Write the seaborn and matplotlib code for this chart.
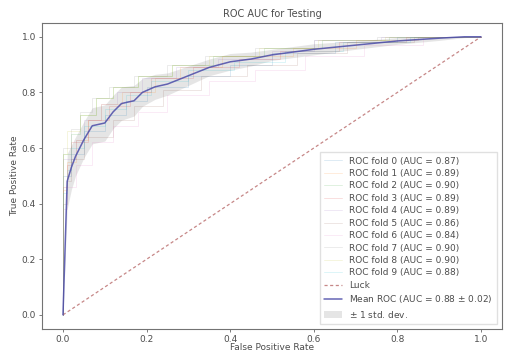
import numpy as np
import matplotlib
matplotlib.use("Agg")
import matplotlib.pyplot as plt
import seaborn as sns
import pandas as pd

# ---- data ----
fold_aucs = [0.87, 0.89, 0.90, 0.89, 0.89, 0.86, 0.84, 0.90, 0.90, 0.88]

fold_fpr = [
    [0, 0.00, 0.02, 0.05, 0.10, 0.15, 0.20, 0.30, 0.40, 0.50, 0.65, 0.80, 1.0],
    [0, 0.01, 0.03, 0.06, 0.09, 0.14, 0.22, 0.28, 0.38, 0.55, 0.70, 0.85, 1.0],
    [0, 0.00, 0.02, 0.04, 0.08, 0.12, 0.18, 0.26, 0.36, 0.48, 0.62, 0.78, 1.0],
    [0, 0.01, 0.02, 0.06, 0.11, 0.16, 0.21, 0.31, 0.42, 0.52, 0.66, 0.82, 1.0],
    [0, 0.00, 0.03, 0.05, 0.09, 0.13, 0.19, 0.27, 0.37, 0.50, 0.60, 0.76, 1.0],
    [0, 0.01, 0.02, 0.05, 0.12, 0.17, 0.24, 0.33, 0.44, 0.56, 0.68, 0.84, 1.0],
    [0, 0.01, 0.03, 0.07, 0.12, 0.18, 0.25, 0.35, 0.46, 0.58, 0.72, 0.86, 1.0],
    [0, 0.00, 0.02, 0.04, 0.07, 0.11, 0.17, 0.25, 0.34, 0.46, 0.60, 0.75, 1.0],
    [0, 0.00, 0.01, 0.04, 0.08, 0.12, 0.18, 0.26, 0.35, 0.47, 0.61, 0.77, 1.0],
    [0, 0.01, 0.02, 0.05, 0.10, 0.15, 0.21, 0.30, 0.41, 0.53, 0.67, 0.83, 1.0],
]
fold_tpr = [
    [0, 0.42, 0.50, 0.58, 0.66, 0.72, 0.77, 0.82, 0.86, 0.90, 0.94, 0.98, 1.0],
    [0, 0.45, 0.55, 0.63, 0.70, 0.76, 0.80, 0.85, 0.89, 0.93, 0.96, 0.99, 1.0],
    [0, 0.50, 0.58, 0.65, 0.72, 0.78, 0.82, 0.86, 0.90, 0.93, 0.96, 0.99, 1.0],
    [0, 0.46, 0.54, 0.62, 0.70, 0.75, 0.80, 0.85, 0.89, 0.92, 0.95, 0.98, 1.0],
    [0, 0.48, 0.56, 0.63, 0.70, 0.76, 0.80, 0.85, 0.89, 0.92, 0.95, 0.99, 1.0],
    [0, 0.40, 0.48, 0.56, 0.64, 0.70, 0.75, 0.81, 0.86, 0.90, 0.94, 0.98, 1.0],
    [0, 0.38, 0.46, 0.54, 0.62, 0.68, 0.73, 0.79, 0.84, 0.88, 0.93, 0.97, 1.0],
    [0, 0.52, 0.60, 0.67, 0.73, 0.78, 0.82, 0.86, 0.90, 0.93, 0.96, 0.99, 1.0],
    [0, 0.50, 0.58, 0.66, 0.72, 0.78, 0.82, 0.86, 0.90, 0.93, 0.96, 0.99, 1.0],
    [0, 0.44, 0.52, 0.60, 0.68, 0.74, 0.79, 0.84, 0.88, 0.91, 0.95, 0.98, 1.0],
]

mean_fpr = [0, 0.01, 0.02, 0.03, 0.05, 0.07, 0.10, 0.12, 0.14, 0.17, 0.19, 0.22,
            0.25, 0.30, 0.35, 0.40, 0.45, 0.50, 0.60, 0.70, 0.80, 0.90, 0.96, 1.0]
mean_tpr = [0, 0.48, 0.53, 0.57, 0.63, 0.68, 0.69, 0.73, 0.76, 0.77, 0.80, 0.82,
            0.83, 0.86, 0.89, 0.91, 0.92, 0.935, 0.955, 0.97, 0.985, 0.995, 1.0, 1.0]
tpr_std = [0, 0.10, 0.08, 0.07, 0.065, 0.065, 0.065, 0.06, 0.06, 0.055, 0.05, 0.045,
           0.04, 0.035, 0.03, 0.03, 0.025, 0.02, 0.02, 0.015, 0.012, 0.008, 0.003, 0]
mean_auc = 0.88
std_auc = 0.02

luck_x = [0, 1]
luck_y = [0, 1]

# ---- plotting ----
sns.set_style("ticks")
plt.rcParams['font.family'] = ['DejaVu Sans']
fs = 6.5
txt_color = "0.3"

fig = plt.figure(figsize=(5.07, 3.52), dpi=100)
ax = fig.add_axes([0.083, 0.066, 0.907, 0.869])

palette = sns.color_palette("tab10", 10)
for i in range(10):
    df = pd.DataFrame({"fpr": fold_fpr[i], "tpr": fold_tpr[i]})
    sns.lineplot(data=df, x="fpr", y="tpr", ax=ax, color=palette[i], lw=0.7,
                 alpha=0.15, drawstyle="steps-pre", sort=False, estimator=None,
                 label=f"ROC fold {i} (AUC = {fold_aucs[i]:.2f})")

sns.lineplot(x=luck_x, y=luck_y, ax=ax, color="#c07a7a", lw=0.9, alpha=0.9,
             linestyle="--", label="Luck")
ax.lines[-1].set_dashes([2.5, 2])

sns.lineplot(x=mean_fpr, y=mean_tpr, ax=ax, color="#4b4ba8", lw=1.1, alpha=0.85,
             sort=False, estimator=None,
             label=f"Mean ROC (AUC = {mean_auc:.2f} $\\pm$ {std_auc:.2f})")

upper = np.minimum(np.array(mean_tpr) + np.array(tpr_std), 1)
lower = np.maximum(np.array(mean_tpr) - np.array(tpr_std), 0)
ax.fill_between(mean_fpr, lower, upper, color="grey", alpha=0.2,
                label=r"$\pm$ 1 std. dev.", lw=0)

ax.set_xlim(-0.05, 1.05)
ax.set_ylim(-0.05, 1.05)
ax.set_xlabel("False Positive Rate", fontsize=fs, labelpad=-1, color=txt_color)
ax.set_ylabel("True Positive Rate", fontsize=fs, labelpad=2, color=txt_color)
ax.set_title("ROC AUC for Testing", fontsize=7, pad=4, color=txt_color)
ax.tick_params(labelsize=fs, width=0.6, length=2.5, pad=2, colors="0.4",
               labelcolor=txt_color)
for s in ax.spines.values():
    s.set_linewidth(0.8)
    s.set_color("0.45")

leg = ax.legend(loc="lower right", fontsize=fs, frameon=True, handlelength=2.0,
                labelspacing=0.38, borderpad=0.5, framealpha=0.8, edgecolor="0.85",
                fancybox=False)
for t in leg.get_texts():
    t.set_color(txt_color)

fig.savefig("out.png", dpi=100)
